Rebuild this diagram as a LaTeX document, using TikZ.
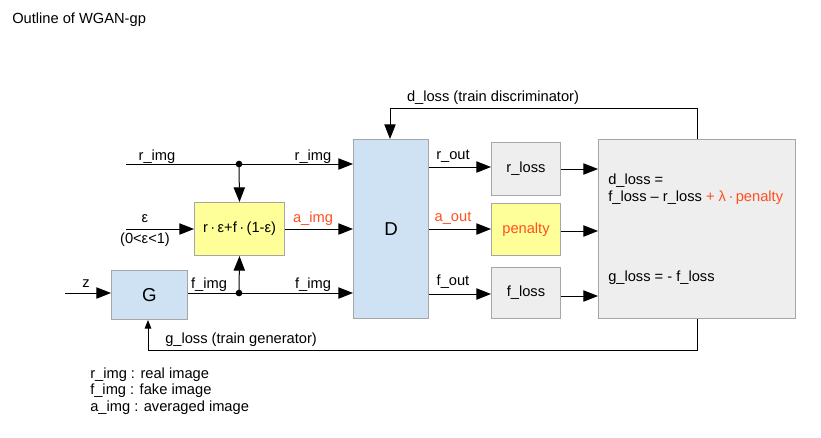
\documentclass[tikz,border=0pt]{standalone}
\usepackage{fontspec}
\setmainfont{Liberation Sans}
\usetikzlibrary{arrows.meta}
\definecolor{bl}{HTML}{CFE2F3}
\definecolor{yl}{HTML}{FFFF99}
\definecolor{gy}{HTML}{EEEEEE}
\definecolor{bd}{HTML}{A6A6A6}
\definecolor{rd}{HTML}{FF4F1F}
\begin{document}
\begin{tikzpicture}[x=0.75pt,y=-0.75pt,
  font=\fontsize{11}{13}\selectfont,
  box/.style={draw=bd, line width=0.75pt, inner sep=0pt, anchor=north west},
  arr/.style={-{Triangle[length=11pt,width=8.5pt]}, line width=0.75pt},
  arrg/.style={-{Triangle[length=6.5pt,width=5pt]}, line width=0.75pt},
  lbl/.style={inner sep=0pt},
  dot/.style={circle, fill=black, inner sep=0pt, minimum size=5pt}]
\useasboundingbox (0,0) rectangle (821,437);

\node[lbl, anchor=west] (title) at (12,20) {Outline of WGAN-gp};

% boxes
\node[box, fill=bl, minimum width=56.25pt, minimum height=134.25pt] (D) at (353,139) {};
\node[font=\fontsize{14}{16}\selectfont] (Dl) at (D.center) {D};
\node[box, fill=gy, minimum width=51.75pt, minimum height=39.75pt] (rl) at (491,142) {};
\node (rlt) at (rl.center) {r\_loss};
\node[box, fill=yl, minimum width=51.75pt, minimum height=39pt] (pen) at (491,203) {};
\node[text=rd] (pent) at (pen.center) {penalty};
\node[box, fill=gy, minimum width=51.75pt, minimum height=38.25pt] (fl) at (491,267) {};
\node (flt) at (fl.center) {f\_loss};
\node[box, fill=gy, minimum width=147.75pt, minimum height=134.25pt] (big) at (598,139) {};
\node[box, fill=bl, minimum width=57pt, minimum height=36.75pt] (G) at (111,270) {};
\node[font=\fontsize{14}{16}\selectfont] (Gl) at (G.center) {G};
\node[box, fill=yl, minimum width=67.5pt, minimum height=39.75pt] (mix) at (194,202) {};
\node (mixt) at (mix.center) {r\,·\,ε+f\,·\,(1-ε)};

% big box text
\node[lbl, anchor=west] (dl1) at (608,181) {d\_loss =};
\node[lbl, anchor=west] (dl2) at (608,198) {f\_loss – r\_loss \textcolor{rd}{+ λ\,·\,penalty}};
\node[lbl, anchor=west] (gl1) at (608,278) {g\_loss = - f\_loss};

% coordinates
\coordinate (rin) at (126,164);
\coordinate (j1) at (239,164);
\coordinate (ein) at (126,229);
\coordinate (j2) at (239,293);
\coordinate (zin) at (65,293);
\coordinate (dtop) at (697,108);
\coordinate (dl) at (390,108);
\coordinate (gb) at (697,350);
\coordinate (gl) at (148,350);

% input lines
\draw[arr] (rin) -- (D.west |- rin);
\node[dot] (d1) at (j1) {};
\draw[arr] (j1) -- (mix.north);
\draw[arr] (ein) -- (mix.west |- ein);
\draw[arr] (mix.east |- ein) -- (D.west |- ein);
\draw[arr] (G.east |- j2) -- (D.west |- j2);
\node[dot] (d2) at (j2) {};
\draw[arr] (j2) -- (mix.south);
\draw[arr] (zin) -- (G.west |- zin);

% D outputs
\draw[arr] (D.east |- 0,167) -- (rl.west |- 0,167);
\draw[arr] (D.east |- 0,229) -- (pen.west |- 0,229);
\draw[arr] (D.east |- 0,294) -- (fl.west |- 0,294);
\draw[arr] (rl.east |- 0,169) -- (big.west |- 0,169);
\draw[arr] (pen.east |- 0,231) -- (big.west |- 0,231);
\draw[arr] (fl.east |- 0,296) -- (big.west |- 0,296);

% feedback
\draw[arr] (big.north -| dtop) -- (dtop) -- (dl) -- (D.north -| dl);
\draw[arrg] (big.south -| gb) -- (gb) -- (gl) -- (G.south -| gl);

% labels
\node[lbl, anchor=base] (t1) at (157,160) {r\_img};
\node[lbl, anchor=base] (t2) at (313,160) {r\_img};
\node[lbl, anchor=base] (t3) at (145,222) {ε};
\node[lbl, anchor=base] (t4) at (145,243) {(0<ε<1)};
\node[lbl, anchor=base, text=rd] (t5) at (313,222) {a\_img};
\node[lbl, anchor=base] (t6) at (86,287) {z};
\node[lbl, anchor=base] (t7) at (209,288) {f\_img};
\node[lbl, anchor=base] (t8) at (313,288) {f\_img};
\node[lbl, anchor=base] (t9) at (453,159) {r\_out};
\node[lbl, anchor=base, text=rd] (t10) at (453,221) {a\_out};
\node[lbl, anchor=base] (t11) at (453,285) {f\_out};
\node[lbl, anchor=base] (t12) at (493,101) {d\_loss (train discriminator)};
\node[lbl, anchor=base west] (t13) at (165,343) {g\_loss (train generator)};

% legend
\node[lbl, anchor=base west] (lg1) at (90,378) {r\_img : real image};
\node[lbl, anchor=base west] (lg2) at (90,394) {f\_img : fake image};
\node[lbl, anchor=base west] (lg3) at (90,411) {a\_img : averaged image};
\end{tikzpicture}
\end{document}
